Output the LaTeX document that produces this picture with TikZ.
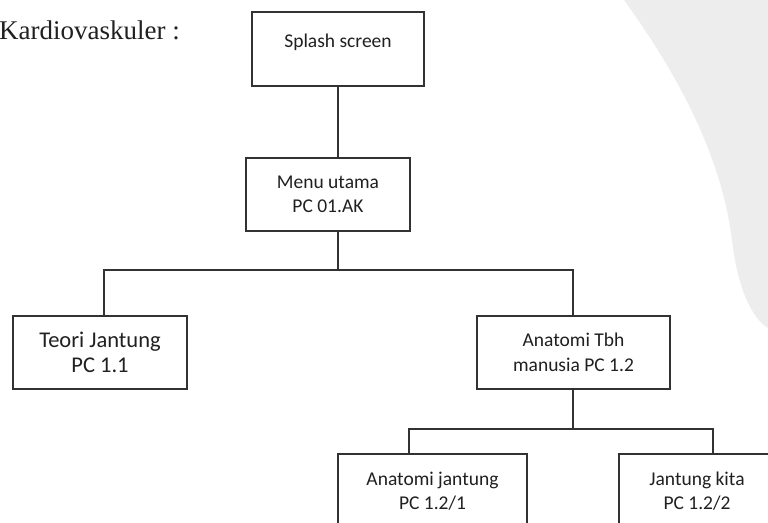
\documentclass[tikz,border=0pt]{standalone}
\usepackage{fontspec}
\setmainfont{Carlito}
\newfontfamily\titlefont{Liberation Serif}
\definecolor{inkline}{RGB}{50,50,50}
\definecolor{inktext}{RGB}{32,32,32}
\definecolor{wmgray}{RGB}{237,237,237}
\tikzset{
  box/.style={draw=inkline, line width=1.3pt, rectangle, inner sep=0pt, text=inktext},
  boxtext/.style={align=center, text=inktext, font=\fontsize{19.5}{24.5}\selectfont},
  link/.style={draw=inkline, line width=1.3pt},
}
\begin{document}
\begin{tikzpicture}[x=1pt, y=-1pt]
  \useasboundingbox (0,0) rectangle (768,522);
  \clip (0,0) rectangle (768,522);
  \fill[white] (0,0) rectangle (768,522);
  % faint watermark shape in the upper right corner
  \fill[wmgray] (624,0) .. controls (682,80) and (722,160) .. (732,240)
    .. controls (738,290) and (752,318) .. (768,328) -- (768,0) -- cycle;

  % heading
  \node[anchor=base west, inner sep=0pt, text=inktext,
        font=\titlefont\fontsize{27}{30}\selectfont] (title) at (-1,39) {Kardiovaskuler :};

  % boxes
  \node[box, minimum width=172pt, minimum height=74pt] (splash) at (338,49) {};
  \node[boxtext, inner sep=0pt] (splashtxt) at (338,42) {Splash screen};
  \node[box, boxtext, minimum width=164pt, minimum height=73pt] (menu) at (328,194.5)
    {Menu utama\\PC 01.AK};
  \node[box, boxtext, font=\fontsize{22.5}{25}\selectfont,
        minimum width=174pt, minimum height=73pt] (teori) at (100,352.5)
    {Teori Jantung\\PC 1.1};
  \node[box, boxtext, minimum width=193pt, minimum height=73pt] (tbh) at (573.5,352.5)
    {Anatomi Tbh\\manusia PC 1.2};
  \node[box, boxtext, minimum width=189pt, minimum height=74pt] (ajantung) at (432.5,491)
    {Anatomi jantung\\PC 1.2/1};
  \node[box, boxtext, minimum width=156pt, minimum height=74pt] (kita) at (697,491)
    {Jantung kita\\PC 1.2/2};

  % bus coordinates
  \coordinate (busM) at (338,270);
  \coordinate (busL) at (104,270);
  \coordinate (busR) at (573,270);
  \coordinate (subM) at (573,429);
  \coordinate (subL) at (409,429);
  \coordinate (subR) at (713,429);

  % connectors
  \draw[link] (splash.south) -- (splash.south |- menu.north);
  \draw[link] (splash.south |- menu.south) -- (busM);
  \draw[link] (busL |- teori.north) -- (busL) -- (busR) -- (busR |- tbh.north);
  \draw[link] (subM |- tbh.south) -- (subM);
  \draw[link] (subL |- ajantung.north) -- (subL) -- (subR) -- (subR |- kita.north);
\end{tikzpicture}
\end{document}
